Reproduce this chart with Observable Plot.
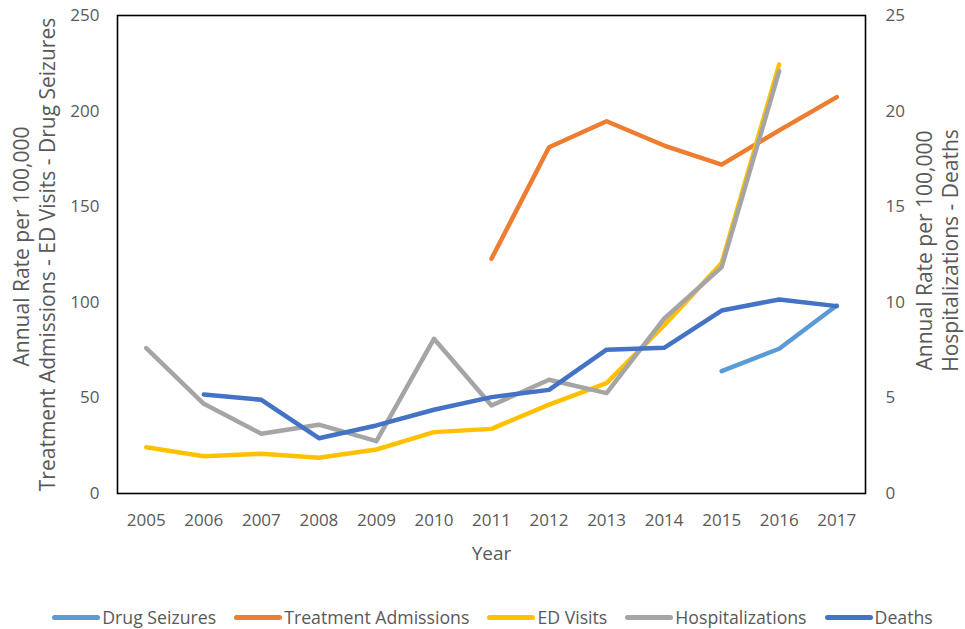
<!DOCTYPE html>
<html>
<head>
<meta charset="utf-8">
<script src="https://cdn.jsdelivr.net/npm/d3@7"></script>
<script src="https://cdn.jsdelivr.net/npm/@observablehq/plot@0.6"></script>
<style>
  html, body { margin: 0; padding: 0; background: #fff; }
  #wrap { position: relative; width: 965px; height: 629px; font-family: "Open Sans", sans-serif; }
  #legend { position: absolute; left: 10px; top: 604px; width: 965px; height: 26px; display: flex; justify-content: center; align-items: center; font-size: 17.7px; color: #595959; }
  .item { display: flex; align-items: center; margin: 0 9px; }
  .sw { width: 48px; height: 5px; border-radius: 3px; margin-right: 2px; }
</style>
</head>
<body>
<div id="wrap"><div id="chart"></div><div id="legend"></div></div>
<script>
const years = [2005, 2006, 2007, 2008, 2009, 2010, 2011, 2012, 2013, 2014, 2015, 2016, 2017];
const seriesNames = ["Drug Seizures", "Treatment Admissions", "ED Visits", "Hospitalizations", "Deaths"];
const seriesColors = ["#5B9BD5", "#ED7D31", "#FFC000", "#A5A5A5", "#4472C4"];
// primary (left) axis series
const drugSeizures = [null, null, null, null, null, null, null, null, null, null, 64, 75.7, 98.3];
const treatmentAdmissions = [null, null, null, null, null, null, 122.8, 181.1, 194.7, 182, 172, 189.9, 207.3];
const edVisits = [24.2, 19.5, 20.8, 18.7, 23, 32.1, 33.8, 46.5, 57.7, 87.9, 120.5, 224.4, null];
// secondary (right) axis series
const hospitalizations = [7.6, 4.69, 3.12, 3.6, 2.74, 8.09, 4.6, 5.95, 5.25, 9.14, 11.84, 22.09, null];
const deaths = [null, 5.18, 4.9, 2.89, 3.56, 4.38, 5.04, 5.42, 7.52, 7.62, 9.57, 10.15, 9.8];
const leftTicks = [0, 50, 100, 150, 200, 250];
const rightTicks = [0, 5, 10, 15, 20, 25];
const leftTitle = ["Annual Rate per 100,000", "Treatment Admissions - ED Visits - Drug Seizures"];
const rightTitle = ["Annual Rate per 100,000", "Hospitalizations - Deaths"];
const xTitle = "Year";

const ratio = 10; // right axis 0-25 maps to left 0-250
const seriesData = [
  [drugSeizures, false], [treatmentAdmissions, false], [edVisits, false],
  [hospitalizations, true], [deaths, true]
];
const rows = [];
seriesData.forEach(([vals, secondary], i) => {
  vals.forEach((v, j) => {
    if (v != null) rows.push({series: seriesNames[i], year: years[j], value: v, secondary});
  });
});

const textColor = "#595959";
const title = (t, anchor, dx, dy) => Plot.text([t], {
  text: d => d, frameAnchor: anchor, textAnchor: "middle", lineAnchor: "middle",
  dx, dy, rotate: -90, fontSize: 21, fill: textColor
});
const chart = Plot.plot({
  width: 965,
  height: 604,
  marginLeft: 117,
  marginRight: 100,
  marginTop: 15,
  marginBottom: 111,
  style: {fontFamily: "Open Sans, sans-serif", color: textColor, background: "#fff"},
  x: {domain: [years[0] - 0.5, years[years.length - 1] + 0.5]},
  y: {domain: [0, 250]},
  color: {domain: seriesNames, range: seriesColors},
  marks: [
    Plot.axisX({ticks: years, tickFormat: d => String(d), tickSize: 0, tickPadding: 20, fontSize: 17, label: null, fill: textColor}),
    Plot.axisY({ticks: leftTicks, tickSize: 0, tickPadding: 18, fontSize: 17, label: null, fill: textColor}),
    Plot.axisY({anchor: "right", ticks: rightTicks.map(t => t * ratio), tickFormat: d => String(d / ratio), tickSize: 0, tickPadding: 20, fontSize: 17, label: null, fill: textColor}),
    Plot.line(rows, {
      x: "year",
      y: d => d.secondary ? d.value * ratio : d.value,
      z: "series",
      stroke: "series",
      strokeWidth: 4.5,
      strokeLinecap: "round",
      strokeLinejoin: "round"
    }),
    Plot.frame({stroke: "#000", strokeWidth: 1.6}),
    title(leftTitle[0], "left", -95, -8),
    title(leftTitle[1], "left", -69, 0),
    title(rightTitle[0], "right", 60, -4),
    title(rightTitle[1], "right", 86, -4),
    Plot.text([xTitle], {text: d => d, frameAnchor: "bottom", dy: 60, fontSize: 19, fill: textColor, lineAnchor: "middle"})
  ]
});
document.getElementById("chart").appendChild(chart);

const legend = document.getElementById("legend");
seriesNames.forEach((name, i) => {
  const item = document.createElement("div");
  item.className = "item";
  const sw = document.createElement("div");
  sw.className = "sw";
  sw.style.background = seriesColors[i];
  const label = document.createElement("span");
  label.textContent = name;
  item.appendChild(sw);
  item.appendChild(label);
  legend.appendChild(item);
});
</script>
</body>
</html>
